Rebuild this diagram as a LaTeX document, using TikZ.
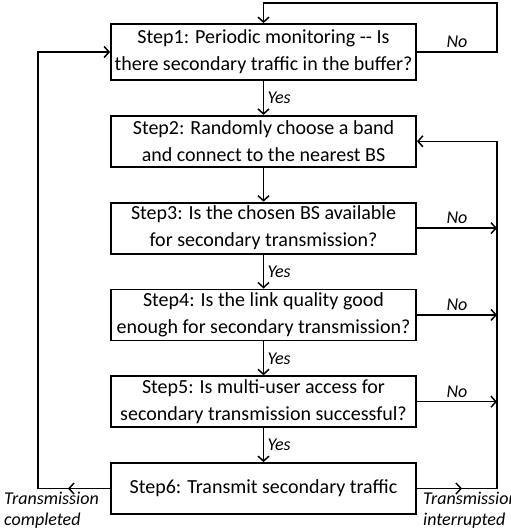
\documentclass[tikz,border=0pt]{standalone}
\usepackage{fontspec}
\setmainfont{Carlito}
\usetikzlibrary{calc}
\usetikzlibrary{positioning}
\usetikzlibrary{arrows.meta}
\tikzset{stepbox/.style={shape=rectangle, draw=black, line width=1.8pt, minimum width=305pt, minimum height=51pt, inner xsep=2pt, inner ysep=1pt, align=center, font=\fontsize{20}{27}\selectfont},
  flow/.style={line width=1.5pt, -{Straight Barb[length=5pt,width=11pt]}},
  lbl/.style={font=\fontsize{18}{21}\selectfont\itshape}}

\begin{document}
\begin{tikzpicture}
    \useasboundingbox (0pt,0pt) rectangle (511pt,-531pt);
    % steps
    \node[stepbox, minimum height=56pt] (s1) at (263.5pt,-52pt) {Step1: Periodic monitoring -{}- Is\\there secondary traffic in the buffer?};
    \node[stepbox, below=34pt of s1] (s2) {Step2: Randomly choose a band\\and connect to the nearest BS};
    \node[stepbox, below=34pt of s2] (s3) {Step3: Is the chosen BS available\\for secondary transmission?};
    \node[stepbox, below=34pt of s3] (s4) {Step4: Is the link quality good\\enough for secondary transmission?};
    \node[stepbox, below=34pt of s4] (s5) {Step5: Is multi-user access for\\secondary transmission successful?};
    \node[stepbox, below=34pt of s5] (s6) {Step6: Transmit secondary traffic};

    \coordinate (top) at (497pt,-3pt);
    \coordinate (lx) at (38pt,0pt);
    \coordinate (lmid) at (68pt,0pt);
    \coordinate (rmid) at (462pt,0pt);

    % yes
    \draw[flow] (s1.south) -- node[lbl, right] (y1) {Yes} (s2.north);
    \draw[flow] (s2.south) -- (s3.north);
    \draw[flow] (s3.south) -- node[lbl, right] (y3) {Yes} (s4.north);
    \draw[flow] (s4.south) -- node[lbl, right] (y4) {Yes} (s5.north);
    \draw[flow] (s5.south) -- node[lbl, right] (y5) {Yes} (s6.north);

    % no
    \draw[flow] (s1.east) -- (s1.east -| top) -- (top) -- (top -| s1.north) -- (s1.north);
    \draw[flow] (s3.east) -- (s3.east -| top);
    \draw[flow] (s4.east) -- (s4.east -| top);
    \draw[flow] (s5.east) -- (s5.east -| top);
    \node[lbl, above=1pt] (n1) at ($(s1.east)!0.5!(s1.east -| top)$) {No};
    \node[lbl, above=1pt] (n3) at ($(s3.east)!0.5!(s3.east -| top)$) {No};
    \node[lbl, above=1pt] (n4) at ($(s4.east)!0.5!(s4.east -| top)$) {No};
    \node[lbl, above=1pt] (n5) at ($(s5.east)!0.5!(s5.east -| top)$) {No};

    % loops back
    \draw[flow] (s6.west) -- (s6.west -| lmid);
    \draw[flow] (s6.west -| lmid) -- (s6.west -| lx) -- (s1.west -| lx) -- (s1.west);
    \draw[flow] (s6.east) -- (s6.east -| rmid);
    \draw[flow] (s6.east -| rmid) -- (s6.east -| top) -- (s2.east -| top) -- (s2.east);
    \node[lbl, align=left, anchor=north west, inner sep=0pt] (done) at (4pt,-492pt) {Transmission\\completed};
    \node[lbl, align=left, anchor=north west, inner sep=0pt] (intr) at (423pt,-492pt) {Transmission\\interrupted};
\end{tikzpicture}
\end{document}
